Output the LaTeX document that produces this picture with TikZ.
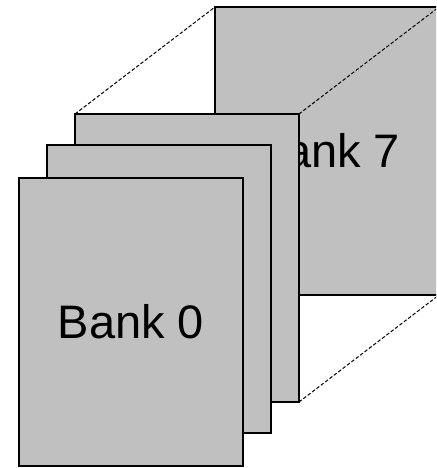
\documentclass[tikz,border=0pt]{standalone}
\usepackage{fontspec}
\setmainfont{Liberation Sans}
\begin{document}
\begin{tikzpicture}[x=1pt,y=-1pt,
  bank/.style={draw=black, line width=1.1pt, fill=banksgray, inner sep=0pt, outer sep=0pt,
    minimum width=224pt, minimum height=288pt, font=\fontsize{47}{50}\selectfont},
  edge/.style={draw=black, line width=1pt, dash pattern=on 3.5pt off 2pt}]
\definecolor{banksgray}{RGB}{192,192,192}
\useasboundingbox (0,0) rectangle (436,468);
\clip (0,0) rectangle (436,468);
% rearmost bank
\node[bank] (b7) at (327,151) {Bank 7};
% third bank, then the receding edges of the stack
\node[bank] (b2) at (187,258) {};
\draw[edge] (b2.north west) -- (b7.north west);
\draw[edge] (b2.north east) -- (b7.north east);
\draw[edge] (b2.south east) -- (b7.south east);
% front banks
\node[bank] (b1) at (159,289) {};
\node[bank] (b0) at (131,322) {Bank 0};
\end{tikzpicture}
\end{document}
